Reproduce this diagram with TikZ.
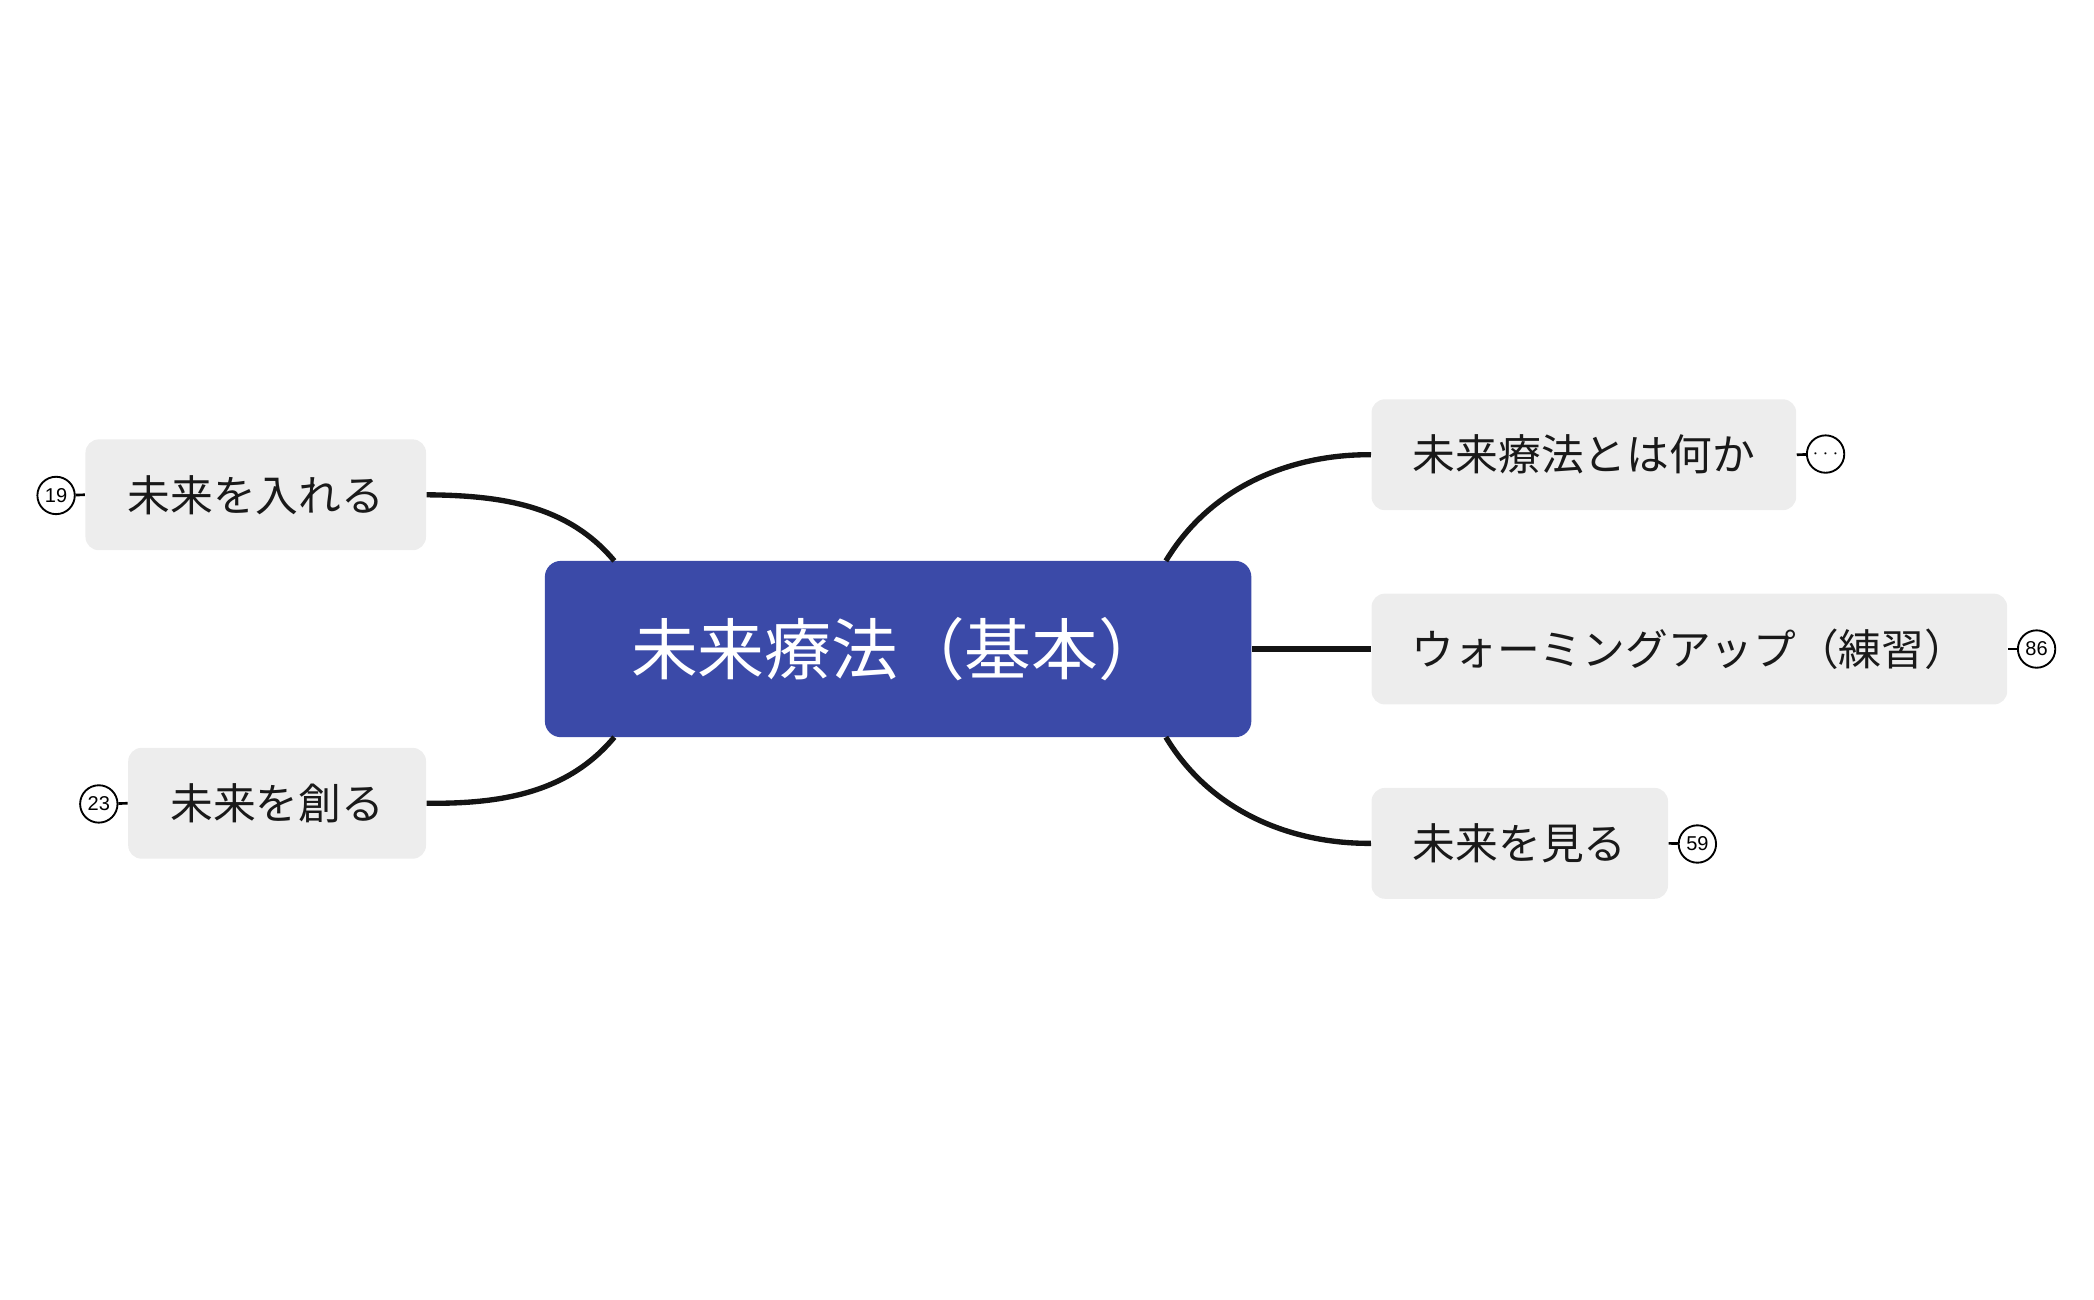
\documentclass[tikz,border=0pt]{standalone}
\usepackage{fontspec}
\setmainfont{Noto Sans CJK JP}
\setsansfont{Liberation Sans}
\begin{document}
\begin{tikzpicture}[x=0.5pt,y=-0.5pt,
  topic/.style={fill=gray!14,rounded corners=5pt,inner sep=0pt,font=\fontsize{16}{18}\selectfont,text=black!90},
  badge/.style={circle,draw,line width=0.7pt,minimum size=14pt,inner sep=0pt,font=\sffamily\fontsize{7.5}{8}\selectfont},
  conn/.style={line width=2pt,draw=black!92},
  blink/.style={line width=1pt}]
\useasboundingbox (0,0) rectangle (1568,973);
\node[fill={rgb,255:red,59;green,74;blue,168},rounded corners=6pt,minimum width=264.5pt,minimum height=66pt,text=white,font=\fontsize{25}{28}\selectfont,inner sep=0pt] (c) at (672.5,486) {未来療法（基本）};
\node[topic,minimum width=127.5pt,minimum height=41.5pt] (a) at (191.5,370.5) {未来を入れる};
\node[topic,minimum width=111.5pt,minimum height=41.5pt] (b) at (207.5,601.5) {未来を創る};
\node[topic,minimum width=159pt,minimum height=41.5pt] (d) at (1186,340.5) {未来療法とは何か};
\node[topic,minimum width=238pt,minimum height=41.5pt] (e) at (1265,486) {ウォーミングアップ（練習）};
\node[topic,minimum width=111pt,minimum height=41.5pt] (f) at (1138,631.5) {未来を見る};
\coordinate (cl1) at (460,420); \coordinate (cl2) at (460,552);
\coordinate (cr1) at (873,420); \coordinate (cr2) at (873,552);
\draw[conn] (cl1) .. controls (425,378) and (375,371) .. (a.east);
\draw[conn] (cl2) .. controls (425,594) and (375,602) .. (b.east);
\draw[conn] (cr1) .. controls (908,362) and (970,340) .. (d.west);
\draw[conn] (c.east) -- (e.west);
\draw[conn] (cr2) .. controls (908,610) and (970,632) .. (f.west);
\node[badge] (ba) at (42,371) {19};
\node[badge] (bb) at (74,602) {23};
\node[badge] (bd) at (1367,340) {$\cdots$};
\node[badge] (be) at (1525,486) {86};
\node[badge] (bf) at (1271,632) {59};
\draw[blink] (ba) -- (a.west); \draw[blink] (bb) -- (b.west);
\draw[blink] (bd) -- (d.east); \draw[blink] (be) -- (e.east); \draw[blink] (bf) -- (f.east);
\end{tikzpicture}
\end{document}
